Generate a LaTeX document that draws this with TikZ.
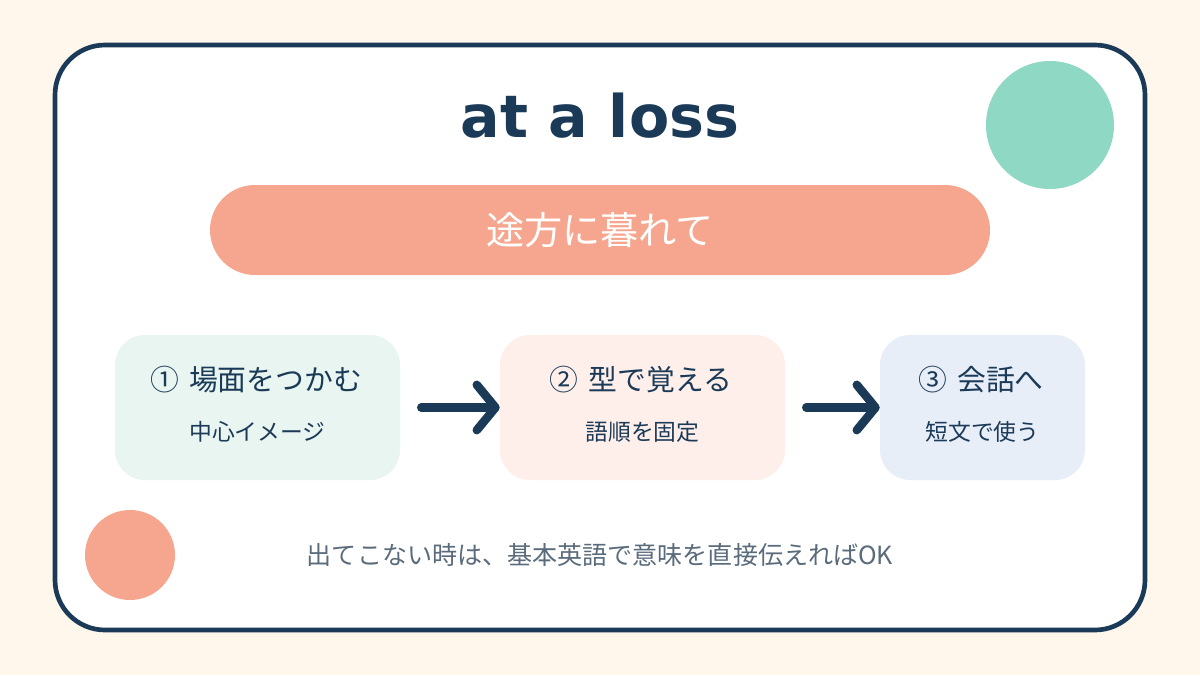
\documentclass[tikz,border=0pt]{standalone}
\usepackage{fontspec}
\setmainfont{Noto Sans CJK JP}
\newfontfamily\titlefont{DejaVu Sans}
\usetikzlibrary{arrows.meta}
\definecolor{navy}{HTML}{1B3A57}
\definecolor{cream}{HTML}{FFF6EC}
\definecolor{salmon}{HTML}{F6A68E}
\definecolor{mint}{HTML}{8FD8C4}
\definecolor{boxa}{HTML}{E8F5F0}
\definecolor{boxb}{HTML}{FEEFEA}
\definecolor{boxc}{HTML}{E8EEF8}
\definecolor{note}{HTML}{5A6B7B}
\tikzset{
  stepbox/.style={rounded corners=22.5pt, minimum height=108.75pt, inner sep=0pt},
  headtext/.style={text=navy, inner sep=0pt, font=\fontsize{21.6}{26}\selectfont},
  subtext/.style={text=navy, inner sep=0pt, font=\fontsize{17.1}{21}\selectfont},
  flow/.style={draw=navy, line width=6.4pt, line cap=round,
    -{Straight Barb[length=14pt,width=34pt,round]}},
}
\begin{document}
\begin{tikzpicture}[x=0.75pt,y=-0.75pt]
\fill[cream] (0,0) rectangle (1200,675);
\useasboundingbox (0,0) rectangle (1200,675);
\draw[navy, line width=3.5pt, fill=white, rounded corners=37.5pt] (55,45) rectangle (1145,630);
\fill[mint] (1050,125) circle [radius=64];
\fill[salmon] (130,555) circle [radius=45];

\node[font=\titlefont\bfseries\fontsize{44}{52}\selectfont, text=navy, anchor=base, inner sep=0pt] (title) at (600,137) {at a loss};

\node[fill=salmon, rounded corners=33.75pt, minimum width=585pt, minimum height=67.5pt, inner sep=0pt, text=white, font=\fontsize{28.6}{34}\selectfont] (pill) at (600,230) {途方に暮れて};

\node[stepbox, fill=boxa, minimum width=213.75pt] (b1) at (257.5,407.5) {};
\node[stepbox, fill=boxb, minimum width=213.75pt] (b2) at (642.5,407.5) {};
\node[stepbox, fill=boxc, minimum width=153.75pt] (b3) at (982.5,407.5) {};

\node[headtext] (h1) at (256,380) {①\hspace{0.35em}場面をつかむ};
\node[subtext] (s1) at (257.5,432) {中心イメージ};
\node[headtext] (h2) at (641,380) {②\hspace{0.35em}型で覚える};
\node[subtext] (s2) at (642.5,432) {語順を固定};
\node[headtext] (h3) at (981,380) {③\hspace{0.35em}会話へ};
\node[subtext] (s3) at (982.5,432) {短文で使う};

\draw[flow, shorten <=15.75pt] (b1.east) -- (b2.west);
\draw[flow, shorten <=15.75pt] (b2.east) -- (b3.west);

\node[text=note, inner sep=0pt, font=\fontsize{18.8}{23}\selectfont] (note) at (600,555) {出てこない時は、基本英語で意味を直接伝えればOK};
\end{tikzpicture}
\end{document}
